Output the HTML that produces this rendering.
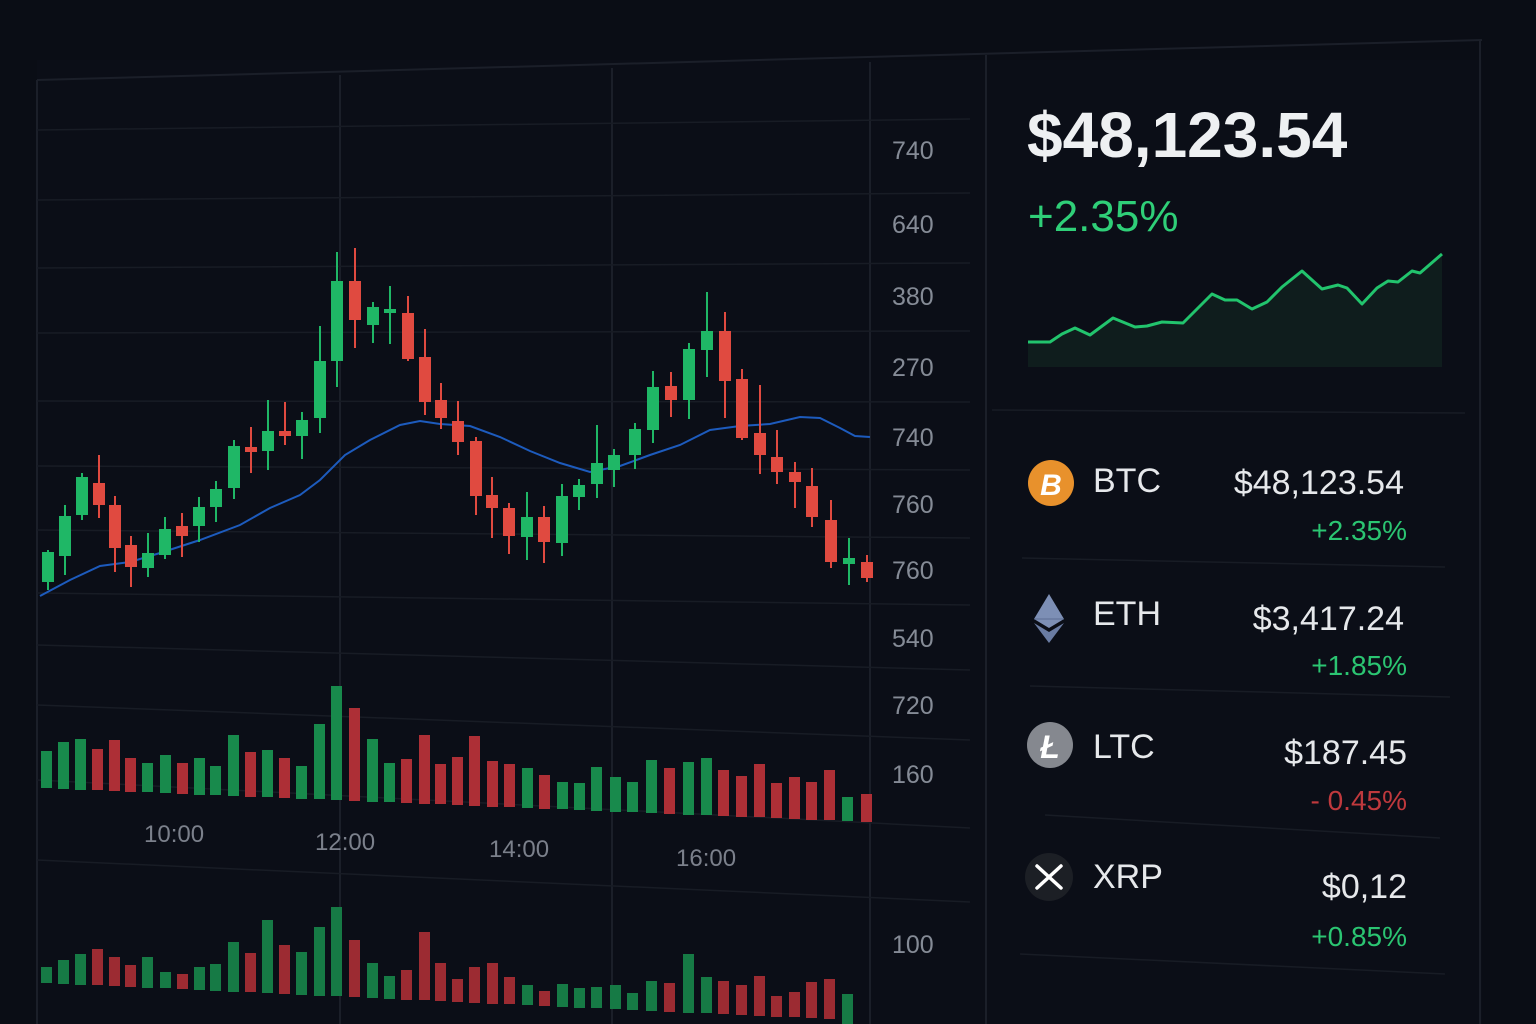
<!DOCTYPE html>
<html><head><meta charset="utf-8"><style>
html,body{margin:0;padding:0;background:#0a0d15;width:1536px;height:1024px;overflow:hidden}
svg{display:block}
text{font-family:"Liberation Sans",sans-serif}
</style></head><body>
<svg width="1536" height="1024" viewBox="0 0 1536 1024" xmlns="http://www.w3.org/2000/svg">
<rect width="1536" height="1024" fill="#0a0d15"/>
<rect x="37" y="60" width="1445" height="964" fill="#0b0e17"/>
<!-- frame lines -->
<g stroke="#1b1f29" stroke-width="2" fill="none">
<line x1="37" y1="80" x2="1482" y2="40"/>
<line x1="37" y1="80" x2="37" y2="1024"/>
<line x1="986" y1="55" x2="986" y2="1024"/>
<line x1="1480" y1="40" x2="1480" y2="1024"/>
<line x1="870" y1="62" x2="870" y2="1024"/>
<line x1="340" y1="75" x2="340" y2="1024"/>
<line x1="612" y1="68" x2="612" y2="1024"/>
</g>
<g stroke="#181c25" stroke-width="1.5" fill="none">
<line x1="37" y1="130" x2="970" y2="119"/>
<line x1="37" y1="200" x2="970" y2="193"/>
<line x1="37" y1="268" x2="970" y2="263"/>
<line x1="37" y1="333" x2="970" y2="331"/>
<line x1="37" y1="401" x2="970" y2="402"/>
<line x1="37" y1="466" x2="970" y2="470"/>
<line x1="37" y1="530" x2="970" y2="538"/>
<line x1="37" y1="593" x2="970" y2="605"/>
<line x1="37" y1="645" x2="970" y2="670"/>
<line x1="37" y1="705" x2="970" y2="740"/>
<line x1="37" y1="780" x2="970" y2="828"/>
<line x1="37" y1="860" x2="970" y2="902"/>
<line x1="992" y1="410" x2="1465" y2="413"/>
<line x1="1022" y1="558" x2="1445" y2="567"/>
<line x1="1030" y1="686" x2="1450" y2="697"/>
<line x1="1045" y1="815" x2="1440" y2="838"/>
<line x1="1020" y1="954" x2="1445" y2="974"/>
</g>
<!-- y labels -->
<g fill="#858b96" font-size="25">
<text x="892" y="159">740</text>
<text x="892" y="233">640</text>
<text x="892" y="305">380</text>
<text x="892" y="376">270</text>
<text x="892" y="446">740</text>
<text x="892" y="513">760</text>
<text x="892" y="579">760</text>
<text x="892" y="647">540</text>
<text x="892" y="714">720</text>
<text x="892" y="783">160</text>
<text x="892" y="953">100</text>
</g>
<g fill="#7b808b" font-size="24">
<text x="144" y="842">10:00</text>
<text x="315" y="850">12:00</text>
<text x="489" y="857">14:00</text>
<text x="676" y="866">16:00</text>
</g>
<!-- MA line -->
<polyline fill="none" stroke="#1d5bbd" stroke-width="2" points="40,596 70,580 100,566 130,562 160,553 200,540 240,525 270,508 300,495 320,480 345,455 370,440 400,425 420,421 440,424 470,426 500,437 530,451 560,463 590,472 620,466 650,455 680,445 710,430 740,426 770,424 800,417 820,418 840,428 855,436 870,437"/>
<!-- candles -->
<g id="cg" fill="#1fb766" stroke="#1fb766" stroke-width="2">
<line x1="48" y1="550" x2="48" y2="590"/><rect x="42" y="552" width="12" height="30" stroke="none"/>
<line x1="65" y1="505" x2="65" y2="575"/><rect x="59" y="516" width="12" height="40" stroke="none"/>
<line x1="82" y1="473" x2="82" y2="520"/><rect x="76" y="477" width="12" height="38" stroke="none"/>
<line x1="148" y1="533" x2="148" y2="577"/><rect x="142" y="553" width="12" height="15" stroke="none"/>
<line x1="165" y1="517" x2="165" y2="559"/><rect x="159" y="529" width="12" height="26" stroke="none"/>
<line x1="199" y1="497" x2="199" y2="542"/><rect x="193" y="507" width="12" height="19" stroke="none"/>
<line x1="216" y1="481" x2="216" y2="522"/><rect x="210" y="489" width="12" height="18" stroke="none"/>
<line x1="234" y1="440" x2="234" y2="499"/><rect x="228" y="446" width="12" height="42" stroke="none"/>
<line x1="268" y1="400" x2="268" y2="470"/><rect x="262" y="431" width="12" height="20" stroke="none"/>
<line x1="302" y1="412" x2="302" y2="459"/><rect x="296" y="420" width="12" height="16" stroke="none"/>
<line x1="320" y1="326" x2="320" y2="433"/><rect x="314" y="361" width="12" height="57" stroke="none"/>
<line x1="337" y1="252" x2="337" y2="387"/><rect x="331" y="281" width="12" height="80" stroke="none"/>
<line x1="373" y1="302" x2="373" y2="343"/><rect x="367" y="307" width="12" height="18" stroke="none"/>
<line x1="390" y1="286" x2="390" y2="344"/><rect x="384" y="309" width="12" height="4" stroke="none"/>
<line x1="527" y1="492" x2="527" y2="560"/><rect x="521" y="517" width="12" height="20" stroke="none"/>
<line x1="562" y1="484" x2="562" y2="556"/><rect x="556" y="496" width="12" height="47" stroke="none"/>
<line x1="579" y1="479" x2="579" y2="510"/><rect x="573" y="485" width="12" height="12" stroke="none"/>
<line x1="597" y1="425" x2="597" y2="498"/><rect x="591" y="463" width="12" height="21" stroke="none"/>
<line x1="614" y1="449" x2="614" y2="487"/><rect x="608" y="455" width="12" height="15" stroke="none"/>
<line x1="635" y1="423" x2="635" y2="469"/><rect x="629" y="429" width="12" height="26" stroke="none"/>
<line x1="653" y1="371" x2="653" y2="443"/><rect x="647" y="387" width="12" height="43" stroke="none"/>
<line x1="689" y1="343" x2="689" y2="419"/><rect x="683" y="349" width="12" height="51" stroke="none"/>
<line x1="707" y1="292" x2="707" y2="377"/><rect x="701" y="331" width="12" height="19" stroke="none"/>
<line x1="849" y1="538" x2="849" y2="585"/><rect x="843" y="558" width="12" height="6" stroke="none"/>
</g>
<g fill="#e04a40" stroke="#e04a40" stroke-width="2">
<line x1="99" y1="455" x2="99" y2="518"/><rect x="93" y="483" width="12" height="22" stroke="none"/>
<line x1="115" y1="496" x2="115" y2="572"/><rect x="109" y="505" width="12" height="43" stroke="none"/>
<line x1="131" y1="536" x2="131" y2="587"/><rect x="125" y="545" width="12" height="22" stroke="none"/>
<line x1="182" y1="513" x2="182" y2="557"/><rect x="176" y="526" width="12" height="10" stroke="none"/>
<line x1="251" y1="427" x2="251" y2="473"/><rect x="245" y="447" width="12" height="5" stroke="none"/>
<line x1="285" y1="402" x2="285" y2="445"/><rect x="279" y="431" width="12" height="5" stroke="none"/>
<line x1="355" y1="248" x2="355" y2="348"/><rect x="349" y="281" width="12" height="39" stroke="none"/>
<line x1="408" y1="296" x2="408" y2="361"/><rect x="402" y="313" width="12" height="46" stroke="none"/>
<line x1="425" y1="329" x2="425" y2="415"/><rect x="419" y="357" width="12" height="45" stroke="none"/>
<line x1="441" y1="383" x2="441" y2="429"/><rect x="435" y="400" width="12" height="18" stroke="none"/>
<line x1="458" y1="401" x2="458" y2="455"/><rect x="452" y="421" width="12" height="21" stroke="none"/>
<line x1="476" y1="437" x2="476" y2="515"/><rect x="470" y="441" width="12" height="55" stroke="none"/>
<line x1="492" y1="477" x2="492" y2="538"/><rect x="486" y="495" width="12" height="13" stroke="none"/>
<line x1="509" y1="503" x2="509" y2="554"/><rect x="503" y="508" width="12" height="28" stroke="none"/>
<line x1="544" y1="506" x2="544" y2="563"/><rect x="538" y="517" width="12" height="25" stroke="none"/>
<line x1="671" y1="372" x2="671" y2="417"/><rect x="665" y="386" width="12" height="14" stroke="none"/>
<line x1="725" y1="312" x2="725" y2="418"/><rect x="719" y="331" width="12" height="50" stroke="none"/>
<line x1="742" y1="369" x2="742" y2="440"/><rect x="736" y="379" width="12" height="59" stroke="none"/>
<line x1="760" y1="385" x2="760" y2="474"/><rect x="754" y="433" width="12" height="22" stroke="none"/>
<line x1="777" y1="430" x2="777" y2="484"/><rect x="771" y="457" width="12" height="15" stroke="none"/>
<line x1="795" y1="462" x2="795" y2="508"/><rect x="789" y="472" width="12" height="10" stroke="none"/>
<line x1="812" y1="468" x2="812" y2="527"/><rect x="806" y="486" width="12" height="31" stroke="none"/>
<line x1="831" y1="500" x2="831" y2="568"/><rect x="825" y="520" width="12" height="42" stroke="none"/>
<line x1="867" y1="555" x2="867" y2="582"/><rect x="861" y="562" width="12" height="16" stroke="none"/>
</g>
<!-- volume upper -->
<g fill="#188a4c">
<rect x="41" y="751" width="11" height="37"/><rect x="58" y="742" width="11" height="47"/><rect x="75" y="739" width="11" height="51"/>
<rect x="142" y="763" width="11" height="29"/><rect x="160" y="755" width="11" height="38"/><rect x="194" y="758" width="11" height="37"/>
<rect x="210" y="766" width="11" height="29"/><rect x="228" y="735" width="11" height="61"/><rect x="262" y="750" width="11" height="47"/>
<rect x="296" y="766" width="11" height="33"/><rect x="314" y="724" width="11" height="75"/><rect x="331" y="686" width="11" height="114"/>
<rect x="367" y="739" width="11" height="63"/><rect x="384" y="763" width="11" height="39"/><rect x="522" y="768" width="11" height="40"/>
<rect x="557" y="782" width="11" height="27"/><rect x="574" y="783" width="11" height="27"/><rect x="591" y="767" width="11" height="44"/>
<rect x="610" y="777" width="11" height="35"/><rect x="627" y="782" width="11" height="30"/><rect x="646" y="760" width="11" height="53"/>
<rect x="683" y="762" width="11" height="53"/><rect x="701" y="758" width="11" height="57"/><rect x="842" y="797" width="11" height="24"/>
</g>
<g fill="#ad2f36">
<rect x="92" y="749" width="11" height="41"/><rect x="109" y="740" width="11" height="51"/><rect x="125" y="758" width="11" height="34"/>
<rect x="177" y="763" width="11" height="31"/><rect x="245" y="752" width="11" height="45"/><rect x="279" y="758" width="11" height="40"/>
<rect x="349" y="708" width="11" height="93"/><rect x="401" y="759" width="11" height="44"/><rect x="419" y="735" width="11" height="69"/>
<rect x="435" y="764" width="11" height="40"/><rect x="452" y="757" width="11" height="48"/><rect x="469" y="736" width="11" height="70"/>
<rect x="487" y="761" width="11" height="46"/><rect x="504" y="764" width="11" height="43"/><rect x="539" y="775" width="11" height="34"/>
<rect x="664" y="768" width="11" height="46"/><rect x="718" y="770" width="11" height="46"/><rect x="736" y="776" width="11" height="41"/>
<rect x="754" y="764" width="11" height="53"/><rect x="771" y="783" width="11" height="35"/><rect x="789" y="777" width="11" height="42"/>
<rect x="806" y="782" width="11" height="38"/><rect x="824" y="770" width="11" height="50"/><rect x="861" y="794" width="11" height="28"/>
</g>
<!-- volume lower -->
<g fill="#167a45">
<rect x="41" y="967" width="11" height="16"/><rect x="58" y="960" width="11" height="24"/><rect x="75" y="954" width="11" height="31"/>
<rect x="142" y="957" width="11" height="31"/><rect x="160" y="972" width="11" height="16"/><rect x="194" y="967" width="11" height="23"/>
<rect x="210" y="964" width="11" height="27"/><rect x="228" y="942" width="11" height="50"/><rect x="262" y="920" width="11" height="73"/>
<rect x="296" y="952" width="11" height="43"/><rect x="314" y="927" width="11" height="69"/><rect x="331" y="907" width="11" height="89"/>
<rect x="367" y="963" width="11" height="35"/><rect x="384" y="976" width="11" height="23"/><rect x="522" y="985" width="11" height="20"/>
<rect x="557" y="984" width="11" height="23"/><rect x="574" y="988" width="11" height="20"/><rect x="591" y="987" width="11" height="21"/>
<rect x="610" y="985" width="11" height="24"/><rect x="627" y="993" width="11" height="17"/><rect x="646" y="981" width="11" height="30"/>
<rect x="683" y="954" width="11" height="59"/><rect x="701" y="977" width="11" height="36"/><rect x="842" y="994" width="11" height="30"/>
</g>
<g fill="#9c2b32">
<rect x="92" y="949" width="11" height="36"/><rect x="109" y="957" width="11" height="29"/><rect x="125" y="965" width="11" height="22"/>
<rect x="177" y="974" width="11" height="15"/><rect x="245" y="953" width="11" height="39"/><rect x="279" y="945" width="11" height="49"/>
<rect x="349" y="940" width="11" height="57"/><rect x="401" y="970" width="11" height="30"/><rect x="419" y="932" width="11" height="68"/>
<rect x="435" y="963" width="11" height="38"/><rect x="452" y="979" width="11" height="23"/><rect x="469" y="967" width="11" height="36"/>
<rect x="487" y="963" width="11" height="41"/><rect x="504" y="977" width="11" height="27"/><rect x="539" y="991" width="11" height="15"/>
<rect x="664" y="983" width="11" height="29"/><rect x="718" y="981" width="11" height="33"/><rect x="736" y="985" width="11" height="30"/>
<rect x="754" y="976" width="11" height="40"/><rect x="771" y="996" width="11" height="21"/><rect x="789" y="992" width="11" height="25"/>
<rect x="806" y="982" width="11" height="36"/><rect x="824" y="979" width="11" height="40"/>
</g>
<!-- right panel -->
<text x="1027" y="157" fill="#eef0f2" font-size="64" font-weight="bold">$48,123.54</text>
<text x="1028" y="231" fill="#2fcf78" font-size="44">+2.35%</text>
<polygon fill="#0f1d1d" points="1028,342 1050,342 1062,334 1075,328 1090,335 1113,318 1135,327 1147,326 1162,322 1183,323 1212,294 1225,300 1237,300 1252,309 1267,302 1282,287 1302,271 1322,289 1338,285 1347,288 1362,304 1377,288 1388,281 1398,282 1412,271 1420,273 1442,254 1442,367 1028,367"/>
<polyline fill="none" stroke="#22c46d" stroke-width="3" stroke-linejoin="round" points="1028,342 1050,342 1062,334 1075,328 1090,335 1113,318 1135,327 1147,326 1162,322 1183,323 1212,294 1225,300 1237,300 1252,309 1267,302 1282,287 1302,271 1322,289 1338,285 1347,288 1362,304 1377,288 1388,281 1398,282 1412,271 1420,273 1442,254"/>
<!-- BTC -->
<circle cx="1051" cy="483" r="23" fill="#e8912c"/>
<text x="1051" y="495" fill="#fff" font-size="30" font-weight="bold" text-anchor="middle" font-style="italic">B</text>
<text x="1093" y="492" fill="#e6e8eb" font-size="34">BTC</text>
<text x="1404" y="494" fill="#e6e8eb" font-size="34" text-anchor="end">$48,123.54</text>
<text x="1407" y="540" fill="#2bc572" font-size="28" text-anchor="end">+2.35%</text>
<!-- ETH -->
<polygon points="1049,594 1034,619 1049,628 1064,619" fill="#7d8fb5"/>
<polygon points="1034,623 1049,643 1064,623 1049,632" fill="#6a7ca3"/>
<line x1="1034" y1="619" x2="1064" y2="619" stroke="#5d6e92" stroke-width="1"/>
<text x="1093" y="625" fill="#e6e8eb" font-size="34">ETH</text>
<text x="1404" y="630" fill="#e6e8eb" font-size="34" text-anchor="end">$3,417.24</text>
<text x="1407" y="675" fill="#2bc572" font-size="28" text-anchor="end">+1.85%</text>
<!-- LTC -->
<circle cx="1050" cy="745" r="23" fill="#85888f"/>
<text x="1050" y="758" fill="#fff" font-size="32" font-weight="bold" text-anchor="middle" font-style="italic">Ł</text>
<text x="1093" y="758" fill="#e6e8eb" font-size="34">LTC</text>
<text x="1407" y="764" fill="#e6e8eb" font-size="34" text-anchor="end">$187.45</text>
<text x="1407" y="810" fill="#c0393d" font-size="28" text-anchor="end">- 0.45%</text>
<!-- XRP -->
<circle cx="1049" cy="877" r="24" fill="#1c1f25"/>
<path d="M1037,866 L1061,888 M1061,866 L1037,888" stroke="#fff" stroke-width="3.5" stroke-linecap="round"/>
<text x="1093" y="888" fill="#e6e8eb" font-size="34">XRP</text>
<text x="1407" y="898" fill="#e6e8eb" font-size="34" text-anchor="end">$0,12</text>
<text x="1407" y="946" fill="#2bc572" font-size="28" text-anchor="end">+0.85%</text>
</svg>
</body></html>
